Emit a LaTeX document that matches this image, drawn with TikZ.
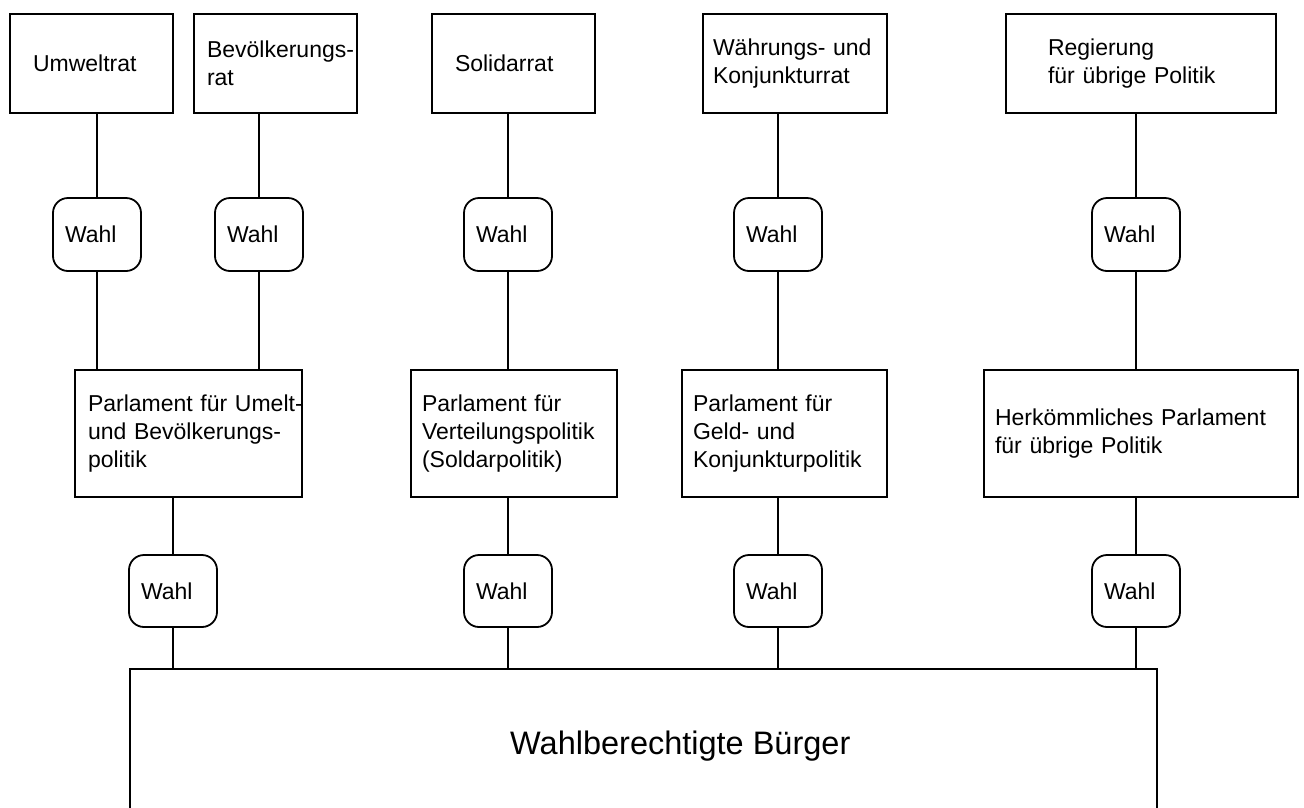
\documentclass[tikz,border=0pt]{standalone}
\usepackage{fontspec}
\setmainfont{Liberation Sans}
\begin{document}
\begin{tikzpicture}[x=1pt,y=-1pt,
  box/.style={draw, line width=1.8pt, align=left, inner ysep=0pt, font=\fontsize{23}{28}\selectfont},
  wahlbox/.style={draw, line width=1.8pt, rounded corners=15pt, minimum height=73pt,
    inner xsep=12pt, inner ysep=0pt, text width=64pt, align=left, font=\fontsize{23}{28}\selectfont},
  conn/.style={line width=1.6pt},
  bigbox/.style={draw, line width=1.8pt, inner sep=0pt}]
\path[use as bounding box, clip] (0,0) rectangle (1304,807);

% top row
\node[box, text width=117pt, inner xsep=23pt, minimum height=99pt] (umweltrat) at (91.5,63.5) {Umweltrat};
\node[box, text width=137pt, inner xsep=13pt, minimum height=99pt] (bevrat) at (275.5,63.5) {\mbox{Bevölkerungs-}\\rat};
\node[box, text width=117pt, inner xsep=23pt, minimum height=99pt] (solidarrat) at (513.5,63.5) {Solidarrat};
\node[box, text width=164pt, inner xsep=10pt, minimum height=99pt] (waehrung) at (795,63.5) {Währungs- und\\Konjunkturrat};
\node[box, text width=186pt, inner xsep=42pt, minimum height=99pt] (regierung) at (1141,63.5) {Regierung\\für übrige Politik};

% first Wahl row
\node[wahlbox] (wa1) at (97,234.5) {Wahl};
\node[wahlbox] (wa2) at (259,234.5) {Wahl};
\node[wahlbox] (wa3) at (508,234.5) {Wahl};
\node[wahlbox] (wa4) at (778,234.5) {Wahl};
\node[wahlbox] (wa5) at (1136,234.5) {Wahl};

% parliaments
\node[box, text width=201pt, inner xsep=13pt, minimum height=127pt] (p1) at (188.5,433.5) {\mbox{Parlament für Umelt-}\\\mbox{und Bevölkerungs-}\\politik};
\node[box, text width=184pt, inner xsep=11pt, minimum height=127pt] (p2) at (514,433.5) {Parlament für\\Verteilungspolitik\\(Soldarpolitik)};
\node[box, text width=183pt, inner xsep=11pt, minimum height=127pt] (p3) at (784.5,433.5) {Parlament für\\Geld- und\\Konjunkturpolitik};
\node[box, text width=292pt, inner xsep=11pt, minimum height=127pt] (p4) at (1141,433.5) {Herkömmliches Parlament\\für übrige Politik};

% second Wahl row
\node[wahlbox, minimum height=72pt] (wb1) at (173,591) {Wahl};
\node[wahlbox, minimum height=72pt] (wb2) at (508,591) {Wahl};
\node[wahlbox, minimum height=72pt] (wb3) at (778,591) {Wahl};
\node[wahlbox, minimum height=72pt] (wb4) at (1136,591) {Wahl};

% citizens
\node[bigbox, minimum width=1027pt, minimum height=146pt] (buerger) at (643.5,742) {};
\node[anchor=base west, inner sep=0pt, font=\fontsize{32.5}{38}\selectfont] (buergertext) at (510,754) {Wahlberechtigte Bürger};

% connectors: councils to Wahl
\draw[conn] (wa1.north |- umweltrat.south) -- (wa1.north);
\draw[conn] (wa2.north |- bevrat.south) -- (wa2.north);
\draw[conn] (wa3.north |- solidarrat.south) -- (wa3.north);
\draw[conn] (wa4.north |- waehrung.south) -- (wa4.north);
\draw[conn] (wa5.north |- regierung.south) -- (wa5.north);
% Wahl to parliaments
\draw[conn] (wa1.south) -- (wa1.south |- p1.north);
\draw[conn] (wa2.south) -- (wa2.south |- p1.north);
\draw[conn] (wa3.south) -- (wa3.south |- p2.north);
\draw[conn] (wa4.south) -- (wa4.south |- p3.north);
\draw[conn] (wa5.south) -- (wa5.south |- p4.north);
% parliaments to Wahl
\draw[conn] (wb1.north |- p1.south) -- (wb1.north);
\draw[conn] (wb2.north |- p2.south) -- (wb2.north);
\draw[conn] (wb3.north |- p3.south) -- (wb3.north);
\draw[conn] (wb4.north |- p4.south) -- (wb4.north);
% Wahl to citizens
\draw[conn] (wb1.south) -- (wb1.south |- buerger.north);
\draw[conn] (wb2.south) -- (wb2.south |- buerger.north);
\draw[conn] (wb3.south) -- (wb3.south |- buerger.north);
\draw[conn] (wb4.south) -- (wb4.south |- buerger.north);
\end{tikzpicture}
\end{document}
